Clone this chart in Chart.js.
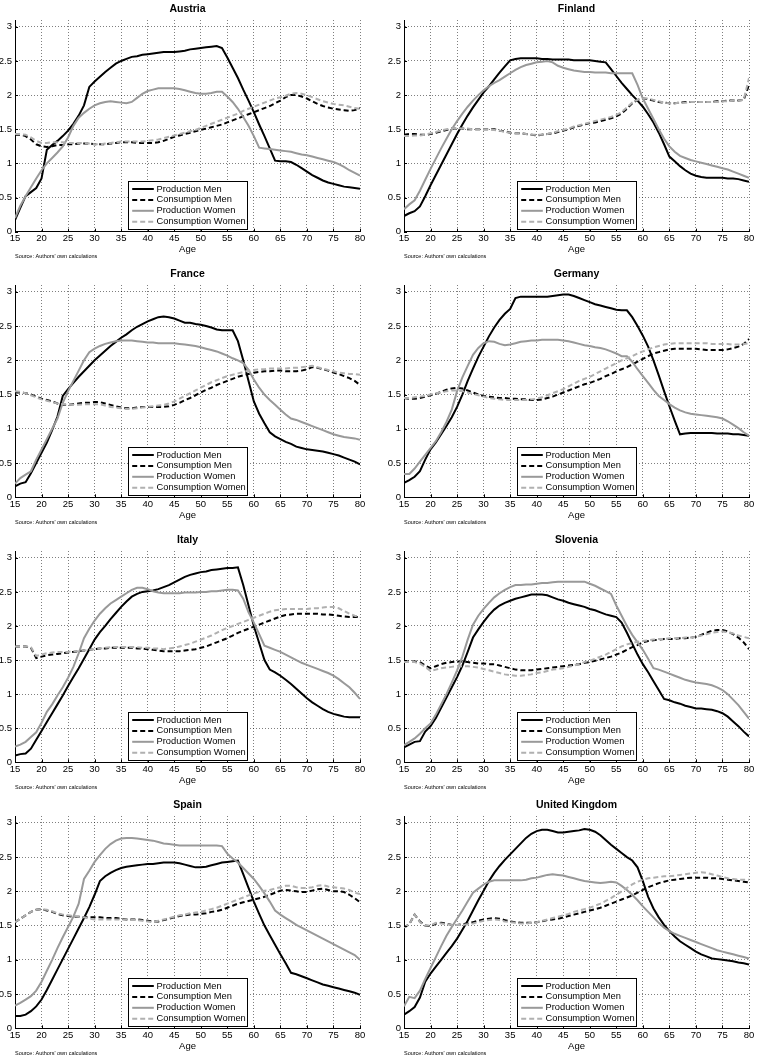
<!DOCTYPE html>
<html>
<head>
<meta charset="utf-8">
<script src="https://cdn.jsdelivr.net/npm/chart.js@4.4.1/dist/chart.umd.min.js"></script>
<style>
  html, body { margin: 0; padding: 0; background: #fff; }
  body { width: 757px; height: 1055px; position: relative; overflow: hidden; }
  canvas { position: absolute; }
</style>
</head>
<body>
<canvas id="c0" width="397" height="265" style="left:-25px;top:0px"></canvas>
<canvas id="c1" width="397" height="265" style="left:364px;top:0px"></canvas>
<canvas id="c2" width="397" height="265" style="left:-25px;top:265px"></canvas>
<canvas id="c3" width="397" height="265" style="left:364px;top:265px"></canvas>
<canvas id="c4" width="397" height="265" style="left:-25px;top:531px"></canvas>
<canvas id="c5" width="397" height="265" style="left:364px;top:531px"></canvas>
<canvas id="c6" width="397" height="265" style="left:-25px;top:796px"></canvas>
<canvas id="c7" width="397" height="265" style="left:364px;top:796px"></canvas>
<script>
// ---------------- DATA ----------------
const ages = [15,16,17,18,19,20,21,22,23,24,25,26,27,28,29,30,31,32,33,34,35,36,37,38,39,40,41,42,43,44,45,46,47,48,49,50,51,52,53,54,55,56,57,58,59,60,61,62,63,64,65,66,67,68,69,70,71,72,73,74,75,76,77,78,79,80];
const seriesLabels = ['Production Men', 'Consumption Men', 'Production Women', 'Consumption Women'];
const countries = ['Austria', 'Finland', 'France', 'Germany', 'Italy', 'Slovenia', 'Spain', 'United Kingdom'];
const xTickValues = [15,20,25,30,35,40,45,50,55,60,65,70,75,80];
const yTickValues = [0,0.5,1,1.5,2,2.5,3];
const sourceNote = "Source: Authors' own calculations";
const xTitle = 'Age';

const austriaProdMen = [0.17,0.35,0.52,0.58,0.64,0.78,1.20,1.27,1.33,1.40, 1.48,1.58,1.70,1.85,2.12,2.20,2.27,2.34,2.40,2.46, 2.50,2.53,2.56,2.57,2.59,2.60,2.61,2.62,2.63,2.63, 2.63,2.64,2.65,2.67,2.68,2.69,2.70,2.71,2.72,2.69, 2.55,2.40,2.25,2.08,1.92,1.75,1.57,1.40,1.22,1.04, 1.03,1.03,1.02,0.98,0.93,0.88,0.83,0.79,0.75,0.72, 0.70,0.68,0.66,0.65,0.64,0.63];
const austriaConsMen = [1.42,1.42,1.40,1.35,1.28,1.25,1.24,1.25,1.27,1.27, 1.28,1.28,1.29,1.29,1.29,1.28,1.28,1.28,1.29,1.30, 1.31,1.31,1.31,1.30,1.30,1.30,1.30,1.31,1.33,1.36, 1.39,1.41,1.43,1.45,1.47,1.49,1.51,1.53,1.55,1.57, 1.60,1.63,1.66,1.69,1.72,1.75,1.78,1.81,1.84,1.88, 1.92,1.97,2.00,2.00,1.98,1.95,1.91,1.87,1.84,1.82, 1.80,1.79,1.78,1.77,1.78,1.81];
const austriaProdWomen = [0.20,0.38,0.52,0.65,0.78,0.90,1.00,1.08,1.16,1.25, 1.38,1.55,1.67,1.74,1.80,1.85,1.88,1.90,1.91,1.90, 1.89,1.88,1.90,1.96,2.02,2.06,2.08,2.10,2.10,2.10, 2.10,2.09,2.07,2.05,2.03,2.02,2.02,2.03,2.05,2.05, 1.98,1.90,1.80,1.68,1.55,1.40,1.23,1.22,1.21,1.20, 1.19,1.18,1.17,1.15,1.13,1.12,1.10,1.08,1.06,1.04, 1.02,0.99,0.95,0.90,0.86,0.82];
const austriaConsWomen = [1.43,1.43,1.42,1.38,1.33,1.30,1.30,1.31,1.31,1.31, 1.30,1.30,1.30,1.30,1.29,1.28,1.28,1.29,1.30,1.31, 1.32,1.32,1.32,1.32,1.32,1.33,1.34,1.35,1.37,1.39, 1.41,1.43,1.45,1.47,1.49,1.52,1.55,1.58,1.61,1.64, 1.67,1.70,1.73,1.77,1.80,1.83,1.86,1.89,1.92,1.95, 1.97,1.99,2.02,2.03,2.02,2.00,1.97,1.94,1.91,1.89, 1.87,1.86,1.85,1.83,1.81,1.80];

const finlandProdMen = [0.23,0.27,0.30,0.37,0.52,0.68,0.83,0.98,1.13,1.28, 1.43,1.57,1.70,1.82,1.93,2.04,2.13,2.23,2.33,2.42, 2.51,2.53,2.54,2.54,2.54,2.54,2.53,2.53,2.52,2.52, 2.52,2.52,2.51,2.51,2.51,2.51,2.50,2.49,2.48,2.38, 2.28,2.18,2.09,2.00,1.92,1.83,1.72,1.60,1.45,1.28, 1.10,1.03,0.96,0.90,0.85,0.82,0.80,0.79,0.79,0.79, 0.79,0.78,0.78,0.77,0.75,0.73];
const finlandConsMen = [1.42,1.43,1.43,1.42,1.42,1.43,1.45,1.47,1.49,1.51, 1.51,1.51,1.50,1.50,1.50,1.50,1.50,1.50,1.48,1.47, 1.45,1.44,1.44,1.43,1.42,1.41,1.42,1.43,1.44,1.46, 1.48,1.50,1.53,1.55,1.57,1.59,1.60,1.62,1.64,1.66, 1.69,1.73,1.80,1.88,1.93,1.95,1.94,1.92,1.90,1.89, 1.88,1.88,1.89,1.90,1.90,1.90,1.90,1.90,1.90,1.91, 1.91,1.92,1.92,1.92,1.93,2.15];
const finlandProdWomen = [0.33,0.40,0.46,0.60,0.76,0.92,1.07,1.22,1.36,1.50, 1.62,1.73,1.83,1.92,2.00,2.07,2.13,2.18,2.22,2.27, 2.32,2.37,2.41,2.44,2.46,2.48,2.49,2.50,2.48,2.43, 2.40,2.38,2.36,2.35,2.34,2.34,2.33,2.33,2.33,2.32, 2.32,2.32,2.32,2.32,2.15,1.95,1.80,1.65,1.50,1.36, 1.25,1.17,1.11,1.08,1.05,1.03,1.01,0.99,0.97,0.95, 0.93,0.91,0.88,0.85,0.82,0.79];
const finlandConsWomen = [1.40,1.40,1.41,1.41,1.42,1.44,1.46,1.48,1.50,1.51, 1.52,1.51,1.51,1.50,1.50,1.50,1.50,1.49,1.48,1.46, 1.45,1.44,1.44,1.43,1.42,1.42,1.42,1.43,1.45,1.47, 1.49,1.51,1.54,1.56,1.58,1.60,1.62,1.64,1.66,1.68, 1.71,1.75,1.82,1.89,1.93,1.95,1.95,1.93,1.91,1.89, 1.88,1.88,1.89,1.89,1.90,1.90,1.90,1.90,1.90,1.90, 1.91,1.91,1.92,1.92,1.93,2.25];

const franceProdMen = [0.16,0.20,0.22,0.35,0.50,0.65,0.80,0.98,1.18,1.48, 1.58,1.67,1.76,1.84,1.92,2.00,2.07,2.14,2.21,2.27, 2.33,2.38,2.44,2.49,2.53,2.57,2.60,2.63,2.64,2.63, 2.61,2.58,2.55,2.55,2.53,2.52,2.50,2.48,2.45,2.44, 2.44,2.44,2.28,2.00,1.70,1.40,1.22,1.08,0.95,0.89, 0.85,0.81,0.78,0.74,0.72,0.70,0.69,0.68,0.67,0.65, 0.63,0.61,0.58,0.55,0.52,0.48];
const franceConsMen = [1.53,1.53,1.52,1.50,1.47,1.44,1.42,1.40,1.37,1.35, 1.35,1.36,1.37,1.38,1.38,1.39,1.39,1.37,1.35,1.33, 1.31,1.30,1.30,1.31,1.32,1.32,1.32,1.32,1.32,1.33, 1.35,1.38,1.42,1.45,1.49,1.53,1.57,1.60,1.64,1.67, 1.70,1.73,1.76,1.78,1.80,1.82,1.83,1.84,1.84,1.85, 1.85,1.84,1.84,1.84,1.85,1.87,1.90,1.89,1.87,1.85, 1.82,1.80,1.77,1.74,1.70,1.64];
const franceProdWomen = [0.20,0.28,0.33,0.38,0.55,0.70,0.85,1.00,1.15,1.38, 1.55,1.70,1.85,2.00,2.12,2.17,2.21,2.24,2.26,2.28, 2.29,2.29,2.29,2.28,2.27,2.26,2.26,2.25,2.25,2.25, 2.25,2.24,2.23,2.22,2.21,2.19,2.17,2.15,2.13,2.10, 2.07,2.03,2.00,1.96,1.86,1.72,1.60,1.50,1.42,1.35, 1.28,1.21,1.15,1.13,1.10,1.07,1.04,1.01,0.98,0.95, 0.92,0.90,0.88,0.87,0.86,0.84];
const franceConsWomen = [1.55,1.54,1.52,1.49,1.46,1.43,1.41,1.39,1.37,1.36, 1.35,1.35,1.35,1.36,1.36,1.36,1.36,1.34,1.32,1.31, 1.30,1.29,1.29,1.30,1.31,1.32,1.33,1.34,1.35,1.37, 1.40,1.44,1.48,1.52,1.56,1.60,1.64,1.68,1.71,1.74, 1.77,1.79,1.81,1.83,1.85,1.86,1.87,1.87,1.88,1.88, 1.88,1.88,1.89,1.89,1.90,1.91,1.92,1.90,1.88,1.86, 1.84,1.82,1.81,1.80,1.80,1.79];

const germanyProdMen = [0.21,0.25,0.30,0.38,0.55,0.70,0.80,0.92,1.04,1.17, 1.32,1.50,1.70,1.88,2.05,2.20,2.35,2.48,2.59,2.68, 2.75,2.91,2.93,2.93,2.93,2.93,2.93,2.93,2.94,2.95, 2.96,2.96,2.94,2.91,2.88,2.85,2.82,2.80,2.78,2.76, 2.74,2.73,2.73,2.63,2.50,2.36,2.20,2.00,1.78,1.55, 1.33,1.12,0.92,0.93,0.94,0.94,0.94,0.94,0.94,0.93, 0.93,0.93,0.92,0.92,0.91,0.90];
const germanyConsMen = [1.45,1.44,1.44,1.45,1.47,1.49,1.51,1.54,1.57,1.59, 1.60,1.59,1.56,1.53,1.50,1.48,1.47,1.46,1.45,1.45, 1.44,1.44,1.43,1.43,1.42,1.42,1.43,1.45,1.47,1.50, 1.53,1.56,1.59,1.62,1.65,1.67,1.70,1.73,1.77,1.80, 1.84,1.87,1.90,1.94,1.98,2.02,2.06,2.10,2.12,2.14, 2.16,2.17,2.17,2.17,2.17,2.17,2.16,2.15,2.15,2.15, 2.15,2.16,2.18,2.20,2.24,2.31];
const germanyProdWomen = [0.34,0.34,0.42,0.52,0.62,0.72,0.82,0.95,1.10,1.28, 1.55,1.75,1.92,2.08,2.18,2.25,2.28,2.27,2.24,2.22, 2.23,2.25,2.27,2.28,2.29,2.29,2.30,2.30,2.30,2.30, 2.29,2.28,2.26,2.24,2.22,2.21,2.19,2.18,2.16,2.13, 2.10,2.06,2.06,1.98,1.87,1.77,1.67,1.57,1.48,1.42, 1.36,1.31,1.27,1.24,1.22,1.21,1.20,1.19,1.18,1.17, 1.15,1.11,1.06,1.01,0.95,0.90];
const germanyConsWomen = [1.45,1.45,1.46,1.47,1.48,1.50,1.52,1.53,1.55,1.56, 1.56,1.55,1.53,1.51,1.49,1.47,1.45,1.44,1.43,1.42, 1.42,1.42,1.42,1.42,1.43,1.44,1.46,1.49,1.52,1.55, 1.58,1.62,1.66,1.70,1.73,1.76,1.80,1.84,1.88,1.92, 1.96,2.00,2.03,2.06,2.10,2.13,2.16,2.19,2.21,2.23, 2.24,2.25,2.25,2.25,2.25,2.25,2.25,2.25,2.24,2.24, 2.24,2.24,2.23,2.23,2.24,2.25];

const italyProdMen = [0.10,0.12,0.13,0.20,0.33,0.46,0.59,0.72,0.85,0.98, 1.12,1.25,1.38,1.52,1.66,1.80,1.91,2.00,2.10,2.19, 2.28,2.36,2.43,2.47,2.50,2.51,2.52,2.54,2.57,2.60, 2.64,2.68,2.72,2.75,2.77,2.79,2.80,2.82,2.83,2.84, 2.85,2.85,2.86,2.60,2.30,2.00,1.75,1.50,1.36,1.32, 1.27,1.21,1.15,1.08,1.01,0.94,0.88,0.83,0.78,0.74, 0.71,0.69,0.67,0.66,0.66,0.66];
const italyConsMen = [1.70,1.70,1.70,1.68,1.53,1.55,1.57,1.58,1.59,1.60, 1.61,1.62,1.63,1.64,1.65,1.66,1.67,1.67,1.68,1.68, 1.68,1.68,1.68,1.67,1.67,1.66,1.65,1.64,1.63,1.63, 1.63,1.63,1.64,1.65,1.66,1.68,1.70,1.73,1.76,1.79, 1.82,1.86,1.90,1.93,1.96,1.99,2.02,2.05,2.08,2.11, 2.14,2.16,2.17,2.18,2.18,2.18,2.18,2.18,2.17,2.17, 2.16,2.15,2.14,2.13,2.13,2.13];
const italyProdWomen = [0.23,0.26,0.30,0.37,0.44,0.58,0.74,0.85,0.98,1.10, 1.24,1.40,1.60,1.82,1.96,2.08,2.18,2.26,2.33,2.38, 2.43,2.48,2.53,2.56,2.56,2.54,2.51,2.49,2.48,2.48, 2.48,2.48,2.49,2.49,2.49,2.50,2.50,2.51,2.51,2.52, 2.53,2.53,2.52,2.40,2.20,2.05,1.88,1.71,1.68,1.65, 1.62,1.58,1.54,1.50,1.46,1.43,1.40,1.37,1.34,1.31, 1.27,1.22,1.16,1.10,1.02,0.93];
const italyConsWomen = [1.70,1.70,1.70,1.69,1.56,1.58,1.60,1.61,1.62,1.62, 1.62,1.63,1.63,1.64,1.65,1.66,1.67,1.68,1.69,1.69, 1.69,1.69,1.69,1.69,1.68,1.68,1.67,1.67,1.66,1.67, 1.68,1.70,1.72,1.74,1.77,1.80,1.83,1.86,1.90,1.94, 1.97,2.00,2.03,2.06,2.09,2.12,2.15,2.18,2.21,2.23, 2.24,2.25,2.25,2.25,2.25,2.25,2.26,2.26,2.27,2.28, 2.28,2.26,2.22,2.18,2.15,2.13];

const sloveniaProdMen = [0.22,0.26,0.30,0.31,0.45,0.53,0.65,0.80,0.95,1.10, 1.25,1.42,1.62,1.83,1.95,2.06,2.16,2.24,2.30,2.34, 2.37,2.40,2.42,2.44,2.46,2.46,2.46,2.45,2.42,2.39, 2.37,2.34,2.32,2.30,2.28,2.25,2.23,2.20,2.17,2.15, 2.13,2.05,1.90,1.74,1.58,1.44,1.32,1.19,1.06,0.93, 0.91,0.88,0.86,0.83,0.81,0.79,0.79,0.78,0.77,0.75, 0.72,0.67,0.60,0.53,0.45,0.38];
const sloveniaConsMen = [1.48,1.48,1.48,1.47,1.42,1.38,1.41,1.44,1.46,1.47, 1.48,1.48,1.47,1.46,1.45,1.45,1.44,1.44,1.42,1.40, 1.38,1.36,1.35,1.35,1.35,1.36,1.37,1.38,1.39,1.40, 1.41,1.42,1.43,1.44,1.46,1.47,1.49,1.51,1.53,1.55, 1.58,1.61,1.65,1.69,1.72,1.76,1.78,1.79,1.80,1.81, 1.81,1.81,1.82,1.82,1.83,1.84,1.87,1.90,1.93,1.94, 1.94,1.92,1.88,1.83,1.76,1.66];
const sloveniaProdWomen = [0.25,0.30,0.35,0.42,0.50,0.57,0.70,0.85,1.00,1.17, 1.35,1.55,1.80,2.02,2.15,2.25,2.34,2.42,2.48,2.53, 2.57,2.60,2.60,2.61,2.61,2.62,2.63,2.63,2.64,2.65, 2.65,2.65,2.65,2.65,2.65,2.62,2.59,2.55,2.51,2.47, 2.30,2.15,2.00,1.87,1.76,1.65,1.52,1.38,1.36,1.33, 1.30,1.27,1.24,1.21,1.19,1.17,1.16,1.15,1.13,1.10, 1.06,1.00,0.92,0.84,0.74,0.64];
const sloveniaConsWomen = [1.47,1.47,1.47,1.45,1.40,1.34,1.36,1.38,1.39,1.40, 1.41,1.41,1.41,1.40,1.39,1.37,1.35,1.33,1.31,1.29, 1.28,1.27,1.27,1.28,1.29,1.31,1.32,1.34,1.36,1.37, 1.38,1.40,1.42,1.44,1.47,1.49,1.52,1.55,1.58,1.62, 1.66,1.70,1.73,1.75,1.77,1.78,1.79,1.80,1.81,1.81, 1.82,1.82,1.82,1.83,1.83,1.84,1.86,1.88,1.90,1.91, 1.92,1.91,1.89,1.86,1.84,1.82];

const spainProdMen = [0.18,0.18,0.20,0.25,0.32,0.42,0.56,0.71,0.86,1.01, 1.16,1.31,1.46,1.61,1.77,1.95,2.15,2.22,2.27,2.31, 2.34,2.36,2.37,2.38,2.39,2.40,2.40,2.41,2.42,2.42, 2.42,2.41,2.39,2.37,2.35,2.35,2.36,2.38,2.40,2.42, 2.43,2.44,2.45,2.25,2.05,1.85,1.67,1.50,1.36,1.22, 1.08,0.95,0.81,0.79,0.76,0.73,0.70,0.67,0.64,0.62, 0.60,0.58,0.56,0.54,0.52,0.49];
const spainConsMen = [1.55,1.60,1.65,1.70,1.73,1.74,1.72,1.70,1.67,1.65, 1.64,1.63,1.63,1.62,1.62,1.62,1.62,1.61,1.61,1.61, 1.60,1.59,1.59,1.59,1.58,1.57,1.56,1.56,1.58,1.60, 1.62,1.64,1.65,1.66,1.66,1.67,1.68,1.70,1.71,1.73, 1.76,1.79,1.82,1.84,1.86,1.88,1.90,1.92,1.95,1.98, 2.01,2.02,2.01,2.00,1.99,1.99,2.01,2.03,2.04,2.02, 2.00,2.00,1.99,1.95,1.90,1.84];
const spainProdWomen = [0.33,0.37,0.42,0.47,0.55,0.68,0.84,1.00,1.17,1.33, 1.48,1.63,1.82,2.18,2.30,2.43,2.53,2.62,2.69,2.74, 2.77,2.78,2.78,2.77,2.76,2.75,2.74,2.72,2.70,2.69, 2.68,2.67,2.67,2.67,2.67,2.67,2.67,2.67,2.67,2.66, 2.55,2.48,2.42,2.34,2.26,2.18,2.08,1.97,1.85,1.72, 1.66,1.61,1.56,1.51,1.47,1.43,1.39,1.35,1.31,1.27, 1.23,1.19,1.15,1.11,1.07,1.00];
const spainConsWomen = [1.55,1.60,1.65,1.70,1.73,1.74,1.73,1.71,1.68,1.66, 1.65,1.64,1.63,1.62,1.60,1.59,1.59,1.59,1.59,1.59, 1.59,1.59,1.58,1.58,1.57,1.56,1.55,1.57,1.59,1.61, 1.63,1.65,1.66,1.68,1.69,1.70,1.72,1.74,1.76,1.79, 1.82,1.85,1.88,1.91,1.94,1.97,1.99,2.01,2.02,2.04, 2.06,2.08,2.08,2.06,2.05,2.05,2.06,2.08,2.09,2.07, 2.06,2.05,2.04,2.02,1.98,1.96];

const ukProdMen = [0.20,0.25,0.31,0.45,0.68,0.80,0.90,1.00,1.10,1.20, 1.31,1.44,1.57,1.72,1.87,2.01,2.15,2.27,2.37,2.46, 2.54,2.62,2.70,2.78,2.84,2.88,2.90,2.90,2.88,2.86, 2.86,2.87,2.88,2.89,2.91,2.90,2.87,2.82,2.75,2.68, 2.62,2.56,2.50,2.45,2.35,2.15,1.92,1.75,1.62,1.51, 1.42,1.34,1.27,1.22,1.17,1.12,1.08,1.05,1.02,1.01, 1.00,0.99,0.98,0.96,0.95,0.93];
const ukConsMen = [1.47,1.52,1.66,1.56,1.50,1.49,1.53,1.54,1.53,1.51, 1.51,1.52,1.53,1.55,1.57,1.59,1.60,1.61,1.60,1.58, 1.56,1.55,1.54,1.54,1.54,1.55,1.56,1.58,1.59,1.60, 1.62,1.64,1.66,1.68,1.70,1.72,1.74,1.76,1.79,1.82, 1.85,1.88,1.91,1.94,1.98,2.02,2.06,2.09,2.12,2.14, 2.16,2.17,2.18,2.19,2.20,2.20,2.20,2.20,2.19,2.19, 2.18,2.17,2.16,2.15,2.14,2.13];
const ukProdWomen = [0.32,0.46,0.44,0.55,0.72,0.88,1.04,1.20,1.35,1.48, 1.60,1.72,1.85,1.98,2.04,2.10,2.14,2.16,2.16,2.16, 2.16,2.16,2.16,2.17,2.19,2.20,2.22,2.24,2.25,2.24, 2.23,2.21,2.19,2.17,2.15,2.14,2.13,2.12,2.13,2.14, 2.13,2.08,2.02,1.95,1.87,1.78,1.70,1.62,1.54,1.47, 1.42,1.38,1.35,1.32,1.29,1.26,1.23,1.20,1.17,1.14, 1.12,1.10,1.08,1.06,1.04,1.02];
const ukConsWomen = [1.47,1.52,1.66,1.55,1.50,1.50,1.54,1.53,1.52,1.51, 1.51,1.51,1.52,1.53,1.55,1.57,1.58,1.59,1.58,1.56, 1.55,1.54,1.53,1.53,1.54,1.55,1.57,1.59,1.61,1.63, 1.65,1.67,1.70,1.72,1.74,1.76,1.79,1.82,1.86,1.90, 1.95,2.00,2.05,2.10,2.14,2.17,2.19,2.20,2.21,2.22, 2.22,2.23,2.24,2.25,2.26,2.27,2.28,2.27,2.25,2.23, 2.21,2.19,2.18,2.17,2.17,2.17];

// ---------------- STYLE / LAYOUT ----------------
const FONT = '"Liberation Sans", Arial, Helvetica, sans-serif';
Chart.defaults.font.family = FONT;
Chart.defaults.color = '#000';

const seriesStyles = [
  { color: '#000000', dash: [] },
  { color: '#000000', dash: [5, 3] },
  { color: '#999999', dash: [] },
  { color: '#b0b0b0', dash: [5, 3] }
];
const drawOrder = [4, 3, 2, 1];

const legendGeom = { offsetX: 113, width: 119, height: 48, bottomGap: 2.7, sampleX0: 3.7, sampleX1: 25.3, textX: 28, rowY0: 7.5, rowStep: 10.9, fontSize: 9.3 };

const legendPlugin = {
  id: 'insideLegend',
  afterDraw(chart) {
    const ctx = chart.ctx;
    const a = chart.chartArea;
    const g = legendGeom;
    const x = Math.round(a.left + g.offsetX) + 0.5;
    const y = Math.round(a.bottom - g.bottomGap - g.height) + 0.5;
    ctx.save();
    ctx.setLineDash([]);
    ctx.fillStyle = '#fff';
    ctx.fillRect(x, y, g.width, g.height);
    ctx.strokeStyle = '#000';
    ctx.lineWidth = 1;
    ctx.strokeRect(x, y, g.width, g.height);
    chart.data.datasets.forEach((ds, i) => {
      const ry = y + g.rowY0 + i * g.rowStep;
      ctx.beginPath();
      ctx.setLineDash(ds.borderDash || []);
      ctx.strokeStyle = ds.borderColor;
      ctx.lineWidth = ds.borderWidth;
      ctx.moveTo(x + g.sampleX0, ry);
      ctx.lineTo(x + g.sampleX1, ry);
      ctx.stroke();
      ctx.setLineDash([]);
      ctx.fillStyle = '#000';
      ctx.font = g.fontSize + 'px ' + FONT;
      ctx.textBaseline = 'middle';
      ctx.textAlign = 'left';
      ctx.fillText(ds.label, x + g.textX, ry);
    });
    ctx.restore();
  }
};

const innerTickPlugin = {
  id: 'innerTicks',
  afterDatasetsDraw(chart) {
    const ctx = chart.ctx;
    const a = chart.chartArea;
    const xs = chart.scales.x, ys = chart.scales.y;
    ctx.save();
    ctx.strokeStyle = '#000';
    ctx.lineWidth = 1;
    ctx.beginPath();
    xs.ticks.forEach(t => {
      const px = Math.round(xs.getPixelForValue(t.value)) + 0.5;
      ctx.moveTo(px, a.bottom);
      ctx.lineTo(px, a.bottom - 3);
    });
    ys.ticks.forEach(t => {
      const py = Math.round(ys.getPixelForValue(t.value)) + 0.5;
      ctx.moveTo(a.left, py);
      ctx.lineTo(a.left + 3, py);
    });
    ctx.stroke();
    ctx.restore();
  }
};

const gridCfg = { color: 'rgba(0,0,0,0.5)', lineWidth: 1, drawTicks: false };
const borderCfg = { display: true, color: '#000', width: 1, dash: [1, 2] };

function toXY(vals) {
  return ages.map((a, i) => ({ x: a, y: vals[i] }));
}

function makeChart(id, name, series, padBottom) {
  return new Chart(document.getElementById(id), {
    type: 'line',
    data: {
      datasets: series.map((vals, i) => ({
        label: seriesLabels[i],
        data: toXY(vals),
        borderColor: seriesStyles[i].color,
        borderDash: seriesStyles[i].dash,
        borderWidth: 2,
        order: drawOrder[i],
        pointRadius: 0,
        tension: 0,
        fill: false
      }))
    },
    options: {
      responsive: false,
      animation: false,
      events: [],
      layout: { padding: { left: 0, right: 12, top: 0, bottom: padBottom } },
      plugins: {
        legend: { display: false },
        tooltip: { enabled: false },
        title: {
          display: true, text: name, fullSize: false, color: '#000',
          font: { size: 10.5, weight: 'bold', lineHeight: 1.2 },
          padding: { top: 2.7, bottom: 4.7 }
        },
        subtitle: {
          display: true, text: sourceNote, position: 'bottom', align: 'start', fullSize: false,
          color: '#000', font: { size: 5.5, lineHeight: 1 }, padding: 0
        }
      },
      scales: {
        x: {
          type: 'linear', min: 15, max: 80,
          afterFit(s) { s.height = 22.35; },
          afterBuildTicks(s) { s.ticks = xTickValues.map(v => ({ value: v })); },
          ticks: { autoSkip: false, maxRotation: 0, padding: 1.3, font: { size: 9.5, lineHeight: 1.2 }, color: '#000', callback: v => String(v) },
          grid: gridCfg,
          border: borderCfg,
          title: { display: true, text: xTitle, color: '#000', font: { size: 9.5, lineHeight: 1 }, padding: { top: 0, bottom: 0 } }
        },
        y: {
          min: 0, max: 3.1,
          afterFit(s) { s.width = 40; },
          afterBuildTicks(s) { s.ticks = yTickValues.map(v => ({ value: v })); },
          ticks: { padding: 3, font: { size: 9.5 }, color: '#000', callback: v => String(v) },
          grid: gridCfg,
          border: borderCfg
        }
      }
    },
    plugins: [innerTickPlugin, legendPlugin]
  });
}

const panelSeries = [
  [austriaProdMen, austriaConsMen, austriaProdWomen, austriaConsWomen],
  [finlandProdMen, finlandConsMen, finlandProdWomen, finlandConsWomen],
  [franceProdMen, franceConsMen, franceProdWomen, franceConsWomen],
  [germanyProdMen, germanyConsMen, germanyProdWomen, germanyConsWomen],
  [italyProdMen, italyConsMen, italyProdWomen, italyConsWomen],
  [sloveniaProdMen, sloveniaConsMen, sloveniaProdWomen, sloveniaConsWomen],
  [spainProdMen, spainConsMen, spainProdWomen, spainConsWomen],
  [ukProdMen, ukConsMen, ukProdWomen, ukConsWomen]
];
const rowPadBottom = [5.45, 4.85, 5.85, 4.85];

countries.forEach((name, i) => {
  makeChart('c' + i, name, panelSeries[i], rowPadBottom[Math.floor(i / 2)]);
});
</script>
</body>
</html>
